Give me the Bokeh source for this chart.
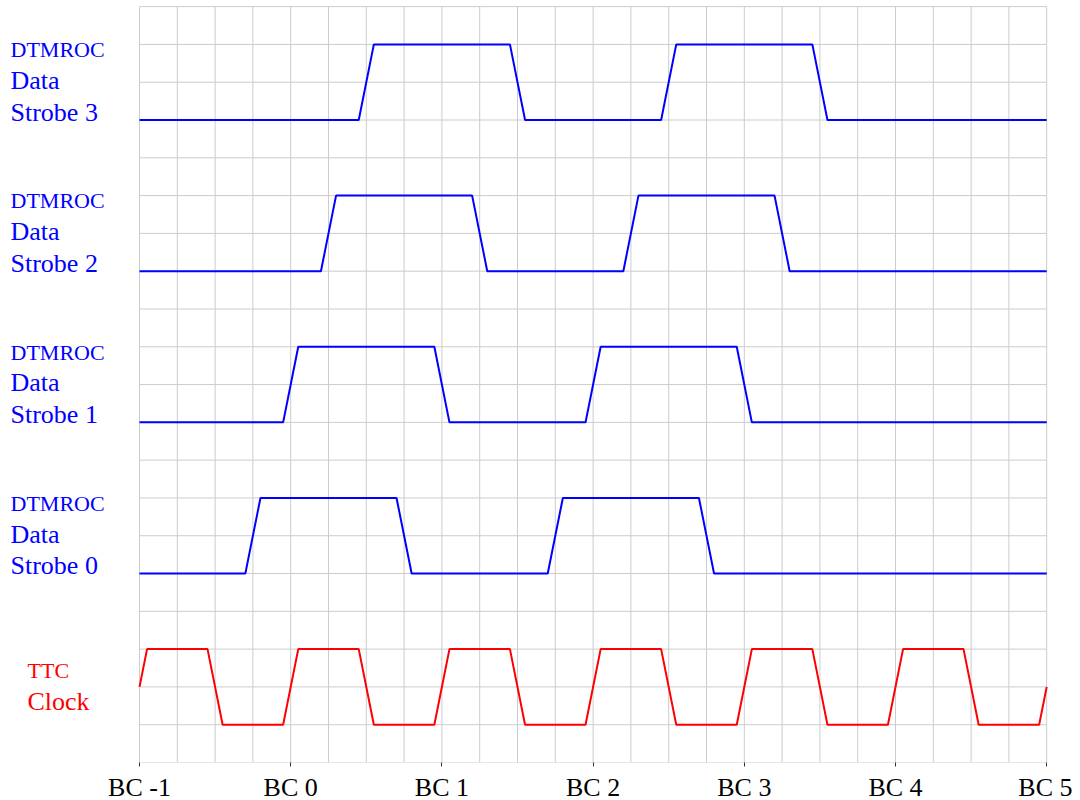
from bokeh.plotting import figure
from bokeh.models import FixedTicker, Range1d
from bokeh.core.properties import value
from bokeh.embed import file_html
from bokeh.resources import INLINE

# Axis ticks (bunch-crossing units)
bc_ticks = [-1, 0, 1, 2, 3, 4, 5]
bc_labels = ["BC -1", "BC 0", "BC 1", "BC 2", "BC 3", "BC 4", "BC 5"]

# TTC clock waveform (x in BC, y in grid units)
clock_x = [-1.0, -0.95, -0.55, -0.45, -0.05, 0.05, 0.45, 0.55, 0.95, 1.05,
           1.45, 1.55, 1.95, 2.05, 2.45, 2.55, 2.95, 3.05, 3.45, 3.55,
           3.95, 4.05, 4.45, 4.55, 4.95, 5.0]
clock_y = [2, 3, 3, 1, 1, 3, 3, 1, 1, 3,
           3, 1, 1, 3, 3, 1, 1, 3, 3, 1,
           1, 3, 3, 1, 1, 2]

# DTMROC data strobes
strobe0_x = [-1.0, -0.3, -0.2, 0.7, 0.8, 1.7, 1.8, 2.7, 2.8, 5.0]
strobe0_y = [5, 5, 7, 7, 5, 5, 7, 7, 5, 5]
strobe1_x = [-1.0, -0.05, 0.05, 0.95, 1.05, 1.95, 2.05, 2.95, 3.05, 5.0]
strobe1_y = [9, 9, 11, 11, 9, 9, 11, 11, 9, 9]
strobe2_x = [-1.0, 0.2, 0.3, 1.2, 1.3, 2.2, 2.3, 3.2, 3.3, 5.0]
strobe2_y = [13, 13, 15, 15, 13, 13, 15, 15, 13, 13]
strobe3_x = [-1.0, 0.45, 0.55, 1.45, 1.55, 2.45, 2.55, 3.45, 3.55, 5.0]
strobe3_y = [17, 17, 19, 19, 17, 17, 19, 19, 17, 17]

strobe_names = ["Strobe 0", "Strobe 1", "Strobe 2", "Strobe 3"]
strobe_lows = [5, 9, 13, 17]

FONT = "Liberation Serif"
BLUE = "#0000ff"
RED = "#ff0000"

PX_PER_BC = 151.2
PX_PER_ROW = 37.8
X0 = -1 - 139 / PX_PER_BC
FW = 1048

p = figure(frame_width=FW, frame_height=757,
           x_range=Range1d(X0, X0 + FW / PX_PER_BC), y_range=Range1d(0, 20.03),
           output_backend="svg", toolbar_location=None,
           min_border_left=0, min_border_right=24, min_border_top=5,
           min_border_bottom=8, y_axis_location=None,
           outline_line_color=None, background_fill_color="white")

p.xaxis.ticker = FixedTicker(ticks=bc_ticks)
p.xaxis.major_label_overrides = {t: l for t, l in zip(bc_ticks, bc_labels)}
p.xaxis.minor_tick_line_color = None
p.xaxis.major_tick_in = 0
p.xaxis.major_tick_out = 4
p.xaxis.major_tick_line_color = "#333333"
p.xaxis.axis_line_color = None
p.xaxis.major_label_text_font = FONT
p.xaxis.major_label_text_font_size = "26px"
p.xaxis.major_label_text_color = "black"
p.xaxis.major_label_standoff = 6
p.grid.visible = False

# grid drawn only over the timing area
quarters = [-1 + 0.25 * i for i in range(25)]
rows = list(range(0, 21))
p.segment(x0=quarters, y0=[0] * len(quarters), x1=quarters, y1=[20] * len(quarters),
          line_color="#cccccc", line_width=1)
p.segment(x0=[-1] * len(rows), y0=rows, x1=[5] * len(rows), y1=rows,
          line_color="#cccccc", line_width=1)

p.line(clock_x, clock_y, line_color=RED, line_width=2)
for xs, ys in [(strobe0_x, strobe0_y), (strobe1_x, strobe1_y),
               (strobe2_x, strobe2_y), (strobe3_x, strobe3_y)]:
    p.line(xs, ys, line_color=BLUE, line_width=2)

# Labels
SHIFT = 8 / PX_PER_ROW
lab_x = -1 + (10 - 139) / PX_PER_BC
n = len(strobe_lows)
p.text(x=[lab_x] * n, y=[l + 1.65 + SHIFT for l in strobe_lows], text=["DTMROC"] * n,
       text_font=value(FONT), text_font_size="22px", text_color=BLUE,
       text_baseline="alphabetic", text_align="left")
p.text(x=[lab_x] * n, y=[l + 0.83 + SHIFT for l in strobe_lows], text=["Data"] * n,
       text_font=value(FONT), text_font_size="26px", text_color=BLUE,
       text_baseline="alphabetic", text_align="left")
p.text(x=[lab_x] * n, y=[l + SHIFT for l in strobe_lows], text=strobe_names,
       text_font=value(FONT), text_font_size="26px", text_color=BLUE,
       text_baseline="alphabetic", text_align="left")

ttc_x = -1 + (27 - 139) / PX_PER_BC
p.text(x=[ttc_x], y=[2.22 + SHIFT], text=["TTC"],
       text_font=value(FONT), text_font_size="22px", text_color=RED,
       text_baseline="alphabetic", text_align="left")
p.text(x=[ttc_x], y=[1.40 + SHIFT], text=["Clock"],
       text_font=value(FONT), text_font_size="26px", text_color=RED,
       text_baseline="alphabetic", text_align="left")

open("out.html", "w").write(file_html(p, INLINE))
